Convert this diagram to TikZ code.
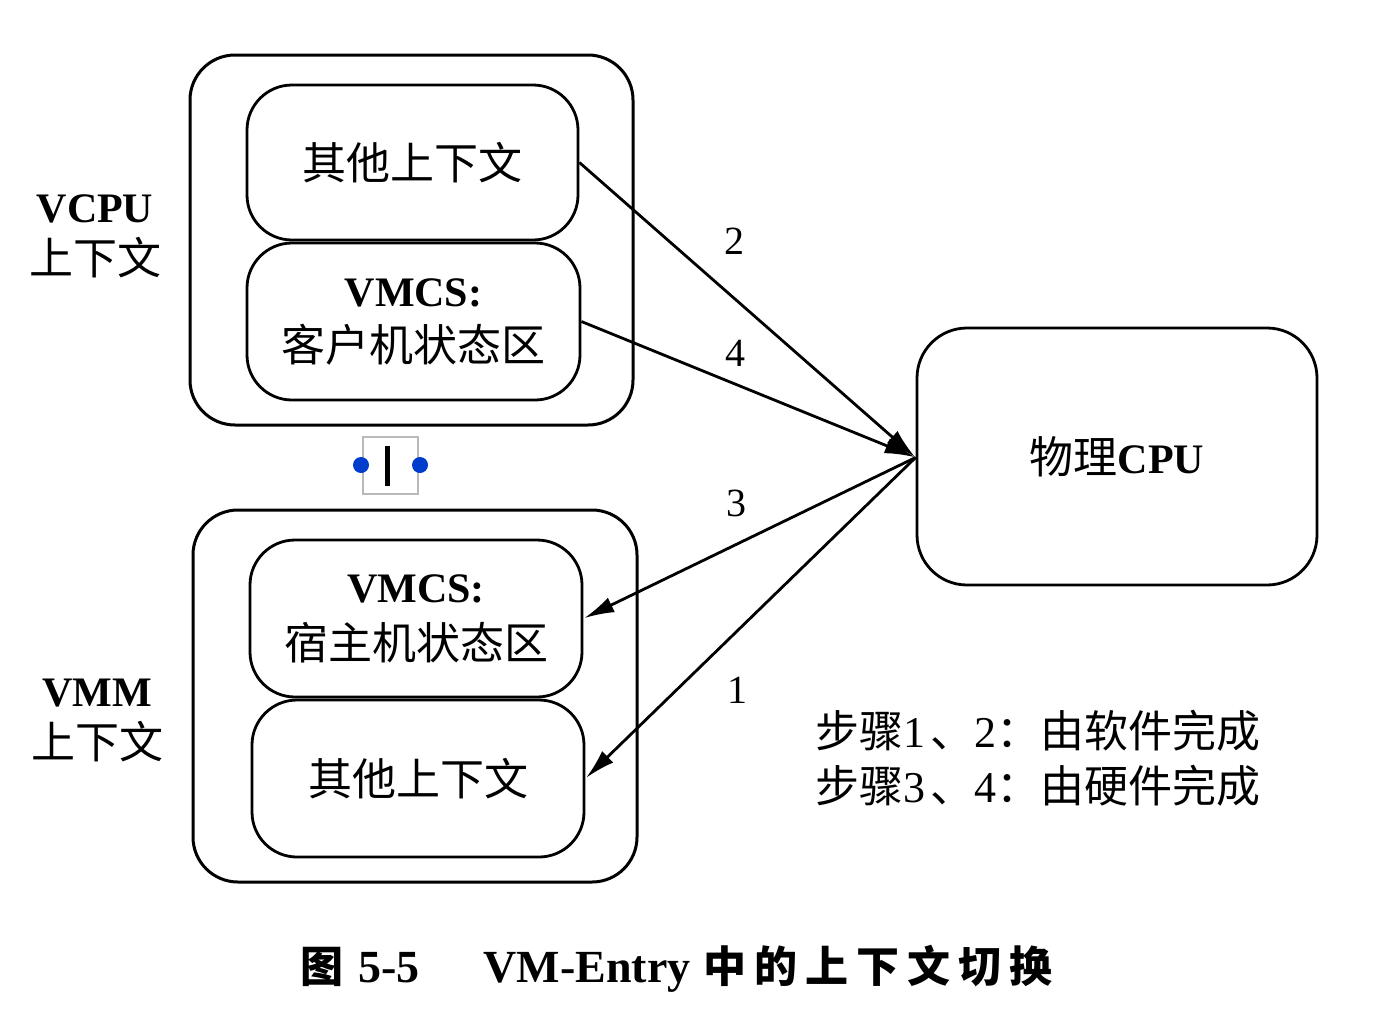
\documentclass[tikz,border=0pt]{standalone}
\usepackage{fontspec}
\setmainfont{Liberation Serif}
\newfontfamily\cjk{Noto Sans CJK SC}
\usetikzlibrary{arrows.meta}
\tikzset{
  outerbox/.style={draw, line width=3pt, rounded corners=45pt, inner sep=0pt},
  innerbox/.style={draw, line width=2.8pt, rounded corners=45pt, inner sep=0pt, align=center,
    font=\fontsize{42}{57}\selectfont},
  cpubox/.style={draw, line width=2.8pt, rounded corners=50pt, inner sep=0pt,
    font=\fontsize{42}{57}\selectfont},
  sidelabel/.style={align=center, font=\fontsize{42}{52}\selectfont, inner sep=0pt},
  numlabel/.style={font=\fontsize{40}{48}\selectfont, inner sep=0pt},
  flow/.style={line width=2.8pt, -{Latex[length=30pt,width=16pt]}, shorten >=1pt},
}
\newcommand{\zh}[1]{{\cjk\fontsize{44}{57}\selectfont #1}}
\begin{document}
\begin{tikzpicture}[x=1pt,y=-1pt]
\useasboundingbox (0,0) rectangle (1380,1010);
% outer boxes
\node[outerbox, minimum width=443pt, minimum height=370pt] (vcpu) at (411.5,240) {};
\node[outerbox, minimum width=444pt, minimum height=372pt] (vmm) at (415,696) {};
% inner boxes
\node[innerbox, minimum width=331pt, minimum height=155pt] (b1) at (412.5,162.5) {\zh{其他上下文}};
\node[innerbox, minimum width=333pt, minimum height=157pt] (b2) at (413.5,321.5) {\textbf{VMCS:}\\[-2pt]\zh{客户机状态区}};
\node[innerbox, minimum width=332pt, minimum height=157pt] (b3) at (416,618.5) {\raisebox{6pt}{\textbf{VMCS:}}\\[-6pt]\zh{宿主机状态区}};
\node[innerbox, minimum width=332pt, minimum height=157pt] (b4) at (418,778.5) {\zh{其他上下文}};
% CPU
\node[cpubox, minimum width=400pt, minimum height=257pt] (cpu) at (1117,456.5) {\zh{物理}\textbf{CPU}};
% side labels
\node[sidelabel] (lvcpu) at (95,236) {\textbf{VCPU}\\\zh{上下文}};
\node[sidelabel] (lvmm) at (97,720) {\textbf{VMM}\\\zh{上下文}};
% arrows
\coordinate (cpuin) at ([yshift=-1pt]cpu.west);
\draw[flow] (b1.east) -- (cpuin);
\draw[flow] (b2.east) -- (cpuin);
\draw[flow] (cpuin) -- (b3.east);
\draw[flow] (cpuin) -- (b4.east);
\node[numlabel] (n2) at (734,241) {2};
\node[numlabel] (n4) at (735,353) {4};
\node[numlabel] (n3) at (736,503) {3};
\node[numlabel] (n1) at (737,690) {1};
% legend
\node[anchor=west, align=left, inner sep=0pt, font=\fontsize{44}{55}\selectfont] (legend) at (815,758)
  {\zh{步骤}1\hspace{5pt}\zh{、}2\zh{：由软件完成}\\\zh{步骤}3\hspace{5pt}\zh{、}4\zh{：由硬件完成}};
% caption
\node[anchor=base west, inner sep=0pt, font=\fontsize{46}{50}\selectfont\bfseries] (caption) at (300,982)
  {{\cjk\fontsize{43}{50}\selectfont 图}\hspace{15pt}5-5\hspace{64pt}VM-Entry\hspace{13pt}{\cjk\fontsize{43}{50}\selectfont 中\hspace{8pt}的\hspace{8pt}上\hspace{8pt}下\hspace{8pt}文\hspace{8pt}切\hspace{8pt}换}};
% text-cursor marker
\draw[gray!55, line width=1.8pt] (363,437) rectangle (418,494);
\fill[black] (385,446) rectangle (389.5,486);
\fill[blue!70!cyan!80!black] (361,465) circle (8pt);
\fill[blue!70!cyan!80!black] (420,465) circle (8pt);
\end{tikzpicture}
\end{document}
